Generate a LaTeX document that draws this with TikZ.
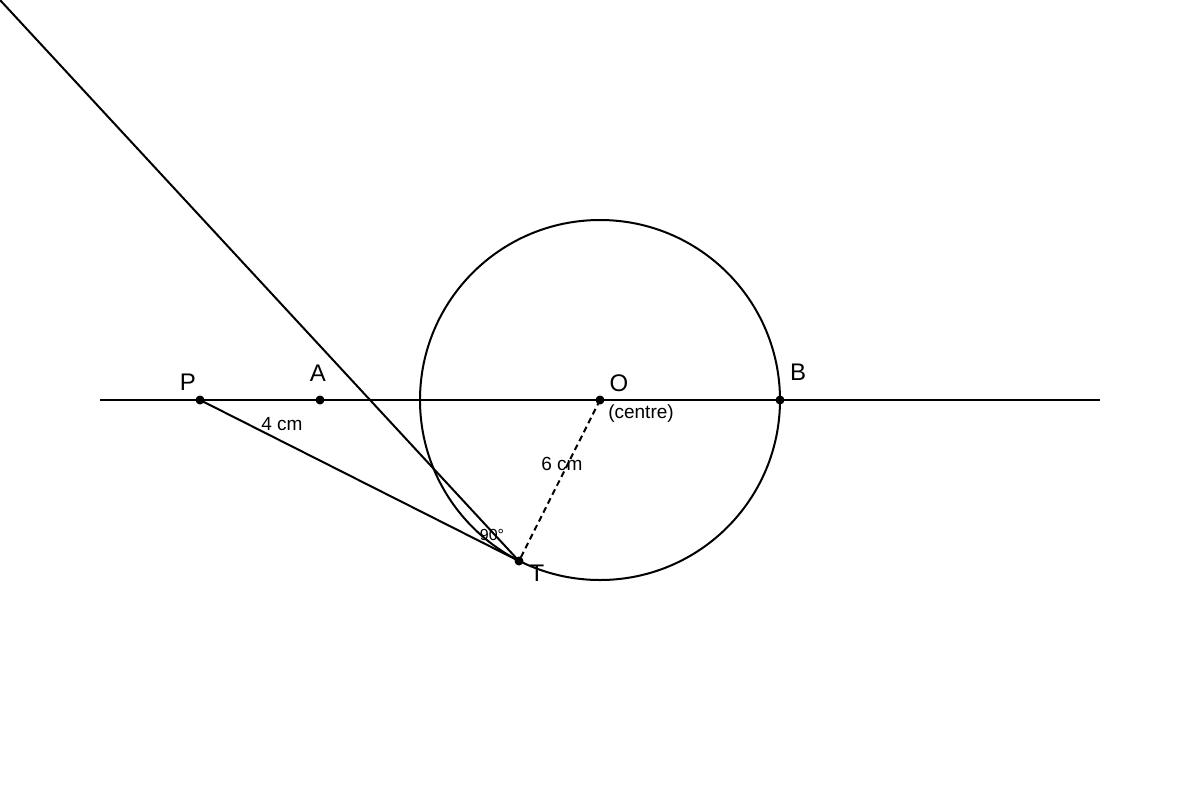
\documentclass[tikz,border=0pt]{standalone}
\usepackage{fontspec}
\setmainfont{Liberation Sans}
\begin{document}
\begin{tikzpicture}[x=0.5pt,y=-0.5pt,
  ln/.style={line width=1pt,black},
  dot/.style={circle,fill=black,inner sep=0pt,minimum size=4.5pt},
  lbl/.style={font=\fontsize{12}{14}\selectfont,inner sep=0pt},
  sml/.style={font=\fontsize{9.5}{11}\selectfont,inner sep=0pt},
  tiny/.style={font=\fontsize{8}{10}\selectfont,inner sep=0pt}]
\useasboundingbox (0,0) rectangle (1200,800);
\coordinate (L) at (100,400);
\coordinate (R) at (1100,400);
\coordinate (far) at (0,0);
\node[dot] (P) at (200,400) {};
\node[dot] (A) at (320,400) {};
\node[dot] (O) at (600,400) {};
\node[dot] (B) at (780,400) {};
\node[dot] (T) at (519,561) {};
\draw[ln] (L) -- (R);
\draw[ln] (O) circle[radius=180];
\draw[ln] (P.center) -- (T.center);
\draw[ln] (far) -- (T.center);
\draw[ln,dash pattern=on 3pt off 2pt] (O.center) -- (T.center);
\node[lbl] (lP) at (188,382) {P};
\node[lbl] (lA) at (318,373) {A};
\node[lbl] (lO) at (619,383) {O};
\node[lbl] (lB) at (798,372) {B};
\node[lbl] (lT) at (537,573) {T};
\node[sml] (lc) at (641,414) {(centre)};
\node[sml] (l4) at (282,424) {4 cm};
\node[sml] (l6) at (562,464) {6 cm};
\node[tiny] (l90) at (492,535) {90°};
\end{tikzpicture}
\end{document}
